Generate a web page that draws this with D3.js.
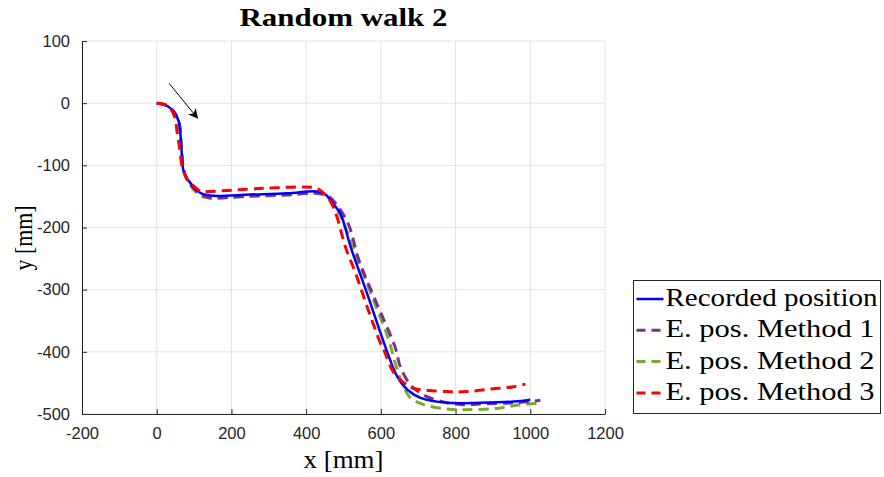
<!DOCTYPE html>
<html>
<head>
<meta charset="utf-8">
<script src="https://cdn.jsdelivr.net/npm/d3@7"></script>
<style>
  body { margin: 0; background: #fff; }
  svg { display: block; }
</style>
</head>
<body>
<div id="chart"></div>
<script>
// Recorded position
var recX = [0, 12, 24, 36, 46, 54, 60, 64, 67, 71, 80, 91, 105, 122, 153, 250, 350, 430, 452, 470, 492, 519, 563, 617, 644, 671, 706, 777, 866, 956, 1000];
var recY = [0, -1, -3, -8, -14, -22, -32, -54, -81, -107, -120, -129, -139, -146, -149, -147, -145, -142, -147, -160, -178, -231, -306, -400, -440, -461, -474, -482, -482, -480, -477];

// Estimated position, method 1
var m1X = [0, 24, 46, 60, 64, 67, 72, 82, 95, 115, 140, 250, 350, 430, 460, 483, 514, 541, 581, 639, 652, 679, 713, 777, 821, 866, 956, 1027];
var m1Y = [0, -3, -14, -32, -54, -81, -107, -124, -134, -146, -152, -149, -147, -145, -150, -164, -196, -252, -311, -394, -424, -453, -469, -482, -485, -484, -482, -478];

// Estimated position, method 2
var m2X = [0, 24, 46, 60, 64, 67, 72, 82, 95, 115, 136, 250, 350, 430, 460, 480, 497, 528, 559, 590, 618, 644, 660, 679, 715, 777, 830, 911, 973, 1027];
var m2Y = [0, -3, -14, -32, -54, -81, -107, -124, -136, -148, -152, -150, -148, -145, -152, -168, -188, -236, -284, -332, -375, -429, -455, -474, -485, -492, -493, -491, -485, -483];

// Estimated position, method 3
var m3X = [0, 20, 36, 48, 55, 62, 68, 82, 100, 118, 140, 287, 421, 439, 465, 482, 505, 532, 563, 599, 608, 635, 662, 684, 777, 830, 893, 956, 987];
var m3Y = [0, -2, -8, -22, -48, -75, -102, -123, -134, -142, -142, -137, -136, -141, -158, -182, -231, -273, -327, -386, -397, -434, -450, -458, -464, -464, -460, -456, -452];

var xTicks = [-200, 0, 200, 400, 600, 800, 1000, 1200];
var yTicks = [100, 0, -100, -200, -300, -400, -500];

var seriesNames = ['Recorded position', 'E. pos. Method 1', 'E. pos. Method 2', 'E. pos. Method 3'];
var seriesColors = ['#0000ff', '#7e2f8e', '#77ac30', '#ff0000'];

// arrow showing the direction of travel, [x, y] in mm
var arrowFrom = [33, 32];
var arrowTo = [109, -24];

var width = 884;
var height = 477;
var serif = 'Liberation Serif, serif';

var svg = d3.select('#chart')
			.append('svg')
			.attr('width', width)
			.attr('height', height);

// Scales
var x_scale = d3.scaleLinear()
				.domain([-200, 1200])
				.range([82, 605]);
var y_scale = d3.scaleLinear()
				.domain([-500, 100])
				.range([414, 41]);

// Grid
svg.append('g').selectAll('line')
	.data(xTicks)
	.enter()
	.append('line')
	.attr('x1', function(d){ return x_scale(d); })
	.attr('x2', function(d){ return x_scale(d); })
	.attr('y1', y_scale(100))
	.attr('y2', y_scale(-500))
	.attr('stroke', '#e3e3e3')
	.attr('stroke-width', 1);
svg.append('g').selectAll('line')
	.data(yTicks)
	.enter()
	.append('line')
	.attr('x1', x_scale(-200))
	.attr('x2', x_scale(1200))
	.attr('y1', function(d){ return y_scale(d); })
	.attr('y2', function(d){ return y_scale(d); })
	.attr('stroke', '#e3e3e3')
	.attr('stroke-width', 1);

// Axes
var x_axis = d3.axisBottom(x_scale)
			   .tickValues(xTicks)
			   .tickFormat(function(d){ return String(d); })
			   .tickSizeInner(-5)
			   .tickSizeOuter(0)
			   .tickPadding(13);
svg.append('g')
   .attr('class', 'x-axis')
   .attr('transform', 'translate(0,' + y_scale(-500) + ')')
   .call(x_axis);

var y_axis = d3.axisLeft(y_scale)
			   .tickValues(yTicks)
			   .tickFormat(function(d){ return String(d); })
			   .tickSizeInner(-5)
			   .tickSizeOuter(0)
			   .tickPadding(12);
svg.append('g')
   .attr('class', 'y-axis')
   .attr('transform', 'translate(' + x_scale(-200) + ',0)')
   .call(y_axis);

svg.selectAll('.x-axis text, .y-axis text')
	.attr('font-family', 'Liberation Sans, Arial, sans-serif')
	.attr('font-size', 16.5)
	.attr('fill', '#262626');
svg.selectAll('.x-axis path, .y-axis path, .x-axis line, .y-axis line')
	.attr('stroke', '#262626');

// Lines
var allX = [recX, m1X, m2X, m3X];
var allY = [recY, m1Y, m2Y, m3Y];
var line = d3.line()
			 .x(function(d){ return x_scale(d[0]); })
			 .y(function(d){ return y_scale(d[1]); })
			 .curve(d3.curveCatmullRom.alpha(0.5));

// methods 2 and 1 under the recorded path, method 3 on top
var order = [2, 1, 0, 3];
order.forEach(function(i){
	var pts = allX[i].map(function(v, k){ return [v, allY[i][k]]; });
	svg.append('path')
		.attr('d', line(pts))
		.attr('fill', 'none')
		.attr('stroke', seriesColors[i])
		.attr('stroke-width', i === 0 ? 2.5 : 3)
		.attr('stroke-dasharray', i === 0 ? null : '10,6');
});

// Arrow
svg.append('defs').append('marker')
	.attr('id', 'head')
	.attr('viewBox', '0 0 10 10')
	.attr('refX', 9)
	.attr('refY', 5)
	.attr('markerWidth', 10)
	.attr('markerHeight', 10)
	.attr('markerUnits', 'userSpaceOnUse')
	.attr('orient', 'auto')
	.append('path')
	.attr('d', 'M0,0 L10,5 L0,10 L3,5 Z')
	.attr('fill', '#000');
svg.append('line')
	.attr('x1', x_scale(arrowFrom[0]))
	.attr('y1', y_scale(arrowFrom[1]))
	.attr('x2', x_scale(arrowTo[0]))
	.attr('y2', y_scale(arrowTo[1]))
	.attr('stroke', '#000')
	.attr('stroke-width', 1)
	.attr('marker-end', 'url(#head)');

// Title and axis labels (widened to match the wider TeX font)
svg.append('text')
	.attr('x', 343.5)
	.attr('y', 26)
	.attr('text-anchor', 'middle')
	.attr('font-family', serif)
	.attr('font-weight', 'bold')
	.attr('font-size', 25)
	.attr('textLength', 208)
	.attr('lengthAdjust', 'spacingAndGlyphs')
	.text('Random walk 2');
svg.append('text')
	.attr('x', 343.5)
	.attr('y', 468)
	.attr('text-anchor', 'middle')
	.attr('font-family', serif)
	.attr('font-size', 25)
	.attr('textLength', 80)
	.attr('lengthAdjust', 'spacingAndGlyphs')
	.text('x [mm]');
svg.append('text')
	.attr('transform', 'translate(32,238) rotate(-90)')
	.attr('text-anchor', 'middle')
	.attr('font-family', serif)
	.attr('font-size', 25)
	.attr('textLength', 65)
	.attr('lengthAdjust', 'spacingAndGlyphs')
	.text('y [mm]');

// Legend
var legendTextWidth = [212, 209, 209, 209];
var legend = svg.append('g').attr('transform', 'translate(633.5,280.5)');
legend.append('rect')
	.attr('width', 247)
	.attr('height', 133)
	.attr('fill', '#fff')
	.attr('stroke', '#262626')
	.attr('stroke-width', 1);
var rows = legend.selectAll('g.row')
	.data(seriesNames)
	.enter()
	.append('g')
	.attr('class', 'row')
	.attr('transform', function(d, i){ return 'translate(0,' + (18.5 + i * 31.3) + ')'; });
rows.append('line')
	.attr('x1', 3)
	.attr('x2', 30)
	.attr('stroke', function(d, i){ return seriesColors[i]; })
	.attr('stroke-width', function(d, i){ return i === 0 ? 2.5 : 3; })
	.attr('stroke-dasharray', function(d, i){ return i === 0 ? null : '9,6'; });
rows.append('text')
	.attr('x', 32)
	.attr('y', 7)
	.attr('font-family', serif)
	.attr('font-size', 25)
	.attr('textLength', function(d, i){ return legendTextWidth[i]; })
	.attr('lengthAdjust', 'spacingAndGlyphs')
	.text(function(d){ return d; });
</script>
</body>
</html>
